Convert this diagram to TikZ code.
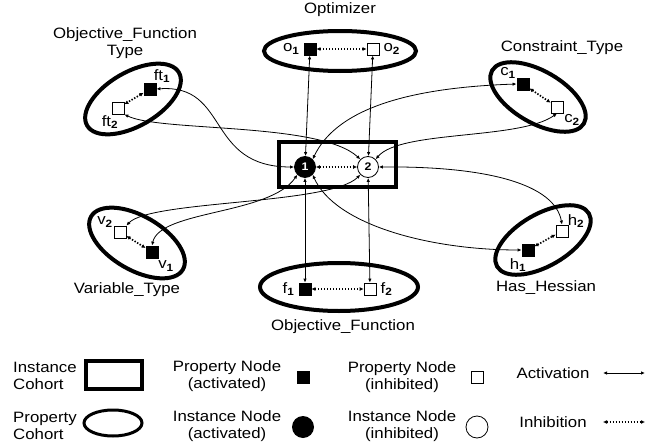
\documentclass[tikz,border=0pt]{standalone}
\usepackage{fontspec}
\setmainfont{Liberation Sans}[FakeStretch=1.12]
\usetikzlibrary{arrows.meta}

\tikzset{
  prop on/.style={draw, fill=black, minimum size=12pt, inner sep=0pt, line width=0.8pt},
  prop off/.style={draw, fill=white, minimum size=12pt, inner sep=0pt, line width=0.8pt},
  inst on/.style={circle, draw, fill=black, text=white, minimum size=21pt, inner sep=0pt, line width=0.8pt, font=\bfseries\fontsize{11}{11}\selectfont},
  inst off/.style={circle, draw, fill=white, minimum size=21pt, inner sep=0pt, line width=0.8pt, font=\bfseries\fontsize{11}{11}\selectfont},
  cohort/.style={line width=4pt},
  act/.style={{Latex[length=4pt,width=3.5pt]}-{Latex[length=4pt,width=3.5pt]}, line width=0.8pt},
  inh/.style={{Latex[length=4pt,width=4pt]}-{Latex[length=4pt,width=4pt]}, line width=1.7pt, dash pattern=on 1.4pt off 1.6pt},
  lbl/.style={font=\fontsize{15}{17}\selectfont, inner sep=1pt},
  sub/.style={font=\fontsize{15}{17}\selectfont, inner sep=1pt}
}
\newcommand{\sbx}[2]{#1\textsubscript{\textbf{#2}}}

\begin{document}
\begin{tikzpicture}[x=1pt, y=-1pt]
  \useasboundingbox (0,0) rectangle (646,447);

  % Instance cohort with the two instance nodes
  \draw[line width=4pt] (279,142) rectangle (396,187);
  \node[inst on]  (n1) at (305,167) {1};
  \node[inst off] (n2) at (368,167) {2};

  % Property cohorts
  \draw[cohort] (340,51) ellipse (76 and 20);
  \draw[cohort] (339,287) ellipse (79 and 24);
  \draw[cohort, rotate around={30:(133,99)}] (133,99) ellipse (53 and 27);
  \draw[cohort, rotate around={-30:(538,97)}] (538,97) ellipse (53 and 26);
  \draw[cohort, rotate around={-30:(137,243)}] (137,243) ellipse (53 and 27);
  \draw[cohort, rotate around={30:(543,240)}] (543,240) ellipse (53 and 26);

  % Cohort names
  \node[lbl, align=center] (oftname) at (125,43) {Objective\_Function\\Type};
  \node[lbl] (optname) at (340,10) {Optimizer};
  \node[lbl] (ctname) at (562,48) {Constraint\_Type};
  \node[lbl] (vtname) at (127,290) {Variable\_Type};
  \node[lbl] (hhname) at (546,288) {Has\_Hessian};
  \node[lbl] (ofname) at (343,327) {Objective\_Function};

  % Property nodes
  \node[prop on]  (o1) at (310,49) {};
  \node[prop off] (o2) at (373,49) {};
  \node[prop on]  (f1) at (305,289) {};
  \node[prop off] (f2) at (370,289) {};
  \node[prop on]  (ft1) at (150,89) {};
  \node[prop off] (ft2) at (118,108) {};
  \node[prop on]  (c1) at (523,84) {};
  \node[prop off] (c2) at (557,107) {};
  \node[prop off] (v2) at (120,232) {};
  \node[prop on]  (v1) at (152,252) {};
  \node[prop on]  (h1) at (528,250) {};
  \node[prop off] (h2) at (562,231) {};

  % Property labels
  \node[sub, left=3pt] at (o1.west) {\sbx{o}{1}};
  \node[sub, right=3pt] at (o2.east) {\sbx{o}{2}};
  \node[sub, left=3pt] at (f1.west) {\sbx{f}{1}};
  \node[sub, right=3pt] at (f2.east) {\sbx{f}{2}};
  \node[sub] at (162,76) {\sbx{ft}{1}};
  \node[sub] at (110,122) {\sbx{ft}{2}};
  \node[sub] at (508,73) {\sbx{c}{1}};
  \node[sub] at (572,120) {\sbx{c}{2}};
  \node[sub] at (105,222) {\sbx{v}{2}};
  \node[sub] at (166,266) {\sbx{v}{1}};
  \node[sub] at (576,221) {\sbx{h}{2}};
  \node[sub] at (518,265) {\sbx{h}{1}};

  % Inhibition links
  \draw[inh] (n1) -- (n2);
  \draw[inh] (o1) -- (o2);
  \draw[inh] (f1) -- (f2);
  \draw[inh] (ft1) -- (ft2);
  \draw[inh] (c1) -- (c2);
  \draw[inh] (v2) -- (v1);
  \draw[inh] (h1) -- (h2);

  % Activation links
  \draw[act] (o1) -- (n1);
  \draw[act] (o2) -- (n2);
  \draw[act] (f1) -- (n1);
  \draw[act] (f2) -- (n2);
  \draw[act] (ft1.east) .. controls (230,84) and (205,167) .. (n1.west);
  \draw[act] (ft2.south east) .. controls (160,132) and (320,122) .. (n2.north west);
  \draw[act] (c1.west) .. controls (400,88) and (335,112) .. (n1.north east);
  \draw[act] (c2.south) .. controls (520,140) and (400,130) .. (n2.north east);
  \draw[act] (n2.east) .. controls (490,166) and (555,185) .. (h2.north);
  \draw[act] (n1.south east) .. controls (335,225) and (430,250) .. (h1.west);
  \draw[act] (v2.north east) .. controls (150,200) and (330,205) .. (n2.south west);
  \draw[act] (v1.north) .. controls (160,210) and (270,215) .. (n1.south west);

  % Legend
  \node[lbl, align=left, anchor=west] (leg1) at (12,376) {Instance\\Cohort};
  \draw[line width=4pt] (86,361) rectangle (142,389);
  \node[lbl, align=left, anchor=west] (leg2) at (12,426) {Property\\Cohort};
  \draw[line width=3pt] (113,423) ellipse (29 and 13);
  \node[lbl, align=center] (leg3) at (227,376) {Property Node\\(activated)};
  \node[prop on] (legpa) at (303,377) {};
  \node[lbl, align=center] (leg4) at (227,426) {Instance Node\\(activated)};
  \node[circle, fill=black, minimum size=22pt, inner sep=0pt] (legia) at (303,427) {};
  \node[lbl, align=center] (leg5) at (402,377) {Property Node\\(inhibited)};
  \node[prop off] (legpi) at (477,377) {};
  \node[lbl, align=center] (leg6) at (402,426) {Instance Node\\(inhibited)};
  \node[circle, draw, line width=0.8pt, minimum size=22pt, inner sep=0pt] (legii) at (477,427) {};
  \node[lbl] (leg7) at (553,373) {Activation};
  \coordinate (a1) at (603,373);
  \coordinate (a2) at (645,373);
  \draw[act] (a1) -- (a2);
  \node[lbl] (leg8) at (553,422) {Inhibition};
  \coordinate (b1) at (603,422);
  \coordinate (b2) at (645,422);
  \draw[inh, line width=1.2pt] (b1) -- (b2);
\end{tikzpicture}
\end{document}
